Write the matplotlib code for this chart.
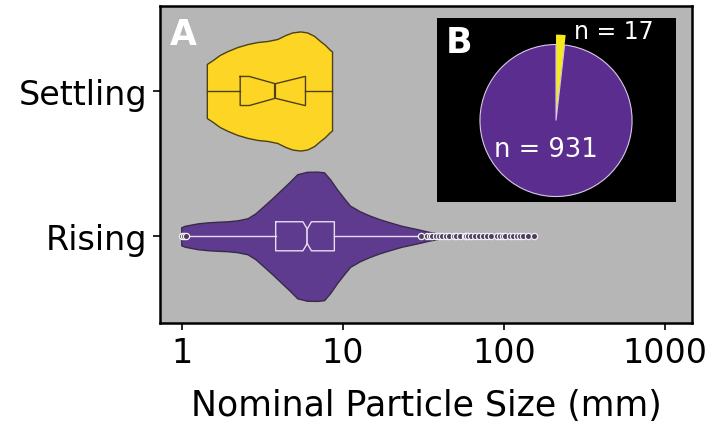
import matplotlib
matplotlib.use("Agg")
import matplotlib.pyplot as plt
import numpy as np

# Violin outlines: particle size (mm) and half width
# (fraction of the category spacing)
settling_size = [1.427, 1.554, 1.716, 1.923, 2.216, 2.555, 2.945, 3.396, 3.914,
                 4.385, 4.844, 5.427, 5.995, 6.622, 7.211, 7.743, 8.316, 8.553]
settling_half = [0.186, 0.213, 0.248, 0.275, 0.303, 0.323, 0.337, 0.344, 0.358,
                 0.385, 0.403, 0.410, 0.403, 0.379, 0.344, 0.317, 0.282, 0.272]

rising_size = [0.990, 1.043, 1.136, 1.255, 1.447, 1.668, 1.923, 2.216, 2.555,
               2.862, 3.239, 3.645, 4.084, 4.642, 5.200, 5.995, 6.911, 7.630,
               8.316, 9.184, 10.14, 11.05, 12.73, 14.68, 16.92, 19.50, 23.13,
               28.63, 33.96, 39.71, 45.77, 52.76, 153.2]
rising_half = [0.062, 0.072, 0.080, 0.089, 0.096, 0.100, 0.103, 0.110, 0.124,
               0.158, 0.211, 0.262, 0.314, 0.372, 0.427, 0.444, 0.445, 0.440,
               0.392, 0.323, 0.262, 0.211, 0.172, 0.142, 0.117, 0.096, 0.072,
               0.050, 0.031, 0.016, 0.008, 0.004, 0.002]

# Box statistics (mm)
settling_box = dict(whislo=1.43, q1=2.30, cilo=2.62, med=3.80, cihi=5.80,
                    q3=5.85, whishi=8.55, fliers=[])
rising_box = dict(whislo=1.09, q1=3.82, cilo=5.64, med=6.00, cihi=6.37,
                  q3=8.84, whishi=29.9,
                  fliers=[1.00, 1.03, 1.06,
                          30.7, 33.3, 34.6, 35.9, 37.7, 39.5, 41.4, 43.4, 45.6,
                          48.6, 50.6, 53.0, 57.0, 58.2, 59.5, 62.5, 65.6, 70.4,
                          74.5, 78.2, 83.1, 90.0, 94.0, 98.0, 102.0, 108.9,
                          114.0, 119.8, 125.5, 131.6, 140.0, 153.8])

categories = ["Settling", "Rising"]
counts = [17, 931]
count_labels = ["n = 17", "n = 931"]

yellow = "#FDD525"
yellow_edge = "#4d4115"
purple = "#5E3B8E"
purple_edge = "#3a2a4a"
box_purple = "#EADCF2"

fig = plt.figure(figsize=(7.27, 4.27), dpi=100)
ax = fig.add_axes([0.220, 0.2412, 0.7318, 0.7424])
ax.set_facecolor("#B6B6B6")

# violins
for pos, size, half, face, edge in [(0, settling_size, settling_half, yellow, yellow_edge),
                                     (1, rising_size, rising_half, purple, purple_edge)]:
    size = np.array(size)
    half = np.array(half)
    ax.fill_between(size, pos - half, pos + half, facecolor=face, edgecolor=edge,
                    linewidth=1.0, zorder=1)

# notched boxes
ax.bxp([settling_box], positions=[0], widths=0.2, orientation="horizontal",
       shownotches=True, showcaps=False, showfliers=False,
       boxprops=dict(color=yellow_edge, linewidth=1.0),
       whiskerprops=dict(color=yellow_edge, linewidth=1.0),
       medianprops=dict(color=yellow_edge, linewidth=1.6), zorder=2)
ax.bxp([rising_box], positions=[1], widths=0.2, orientation="horizontal",
       shownotches=True, showcaps=False, showfliers=True,
       boxprops=dict(color=box_purple, linewidth=1.0),
       whiskerprops=dict(color=box_purple, linewidth=1.0),
       medianprops=dict(color=box_purple, linewidth=1.2),
       flierprops=dict(marker="o", markersize=4.5, markerfacecolor="#4a4058",
                       markeredgecolor="#f4eef8", markeredgewidth=0.9),
       zorder=2)

ax.set_xscale("log")
ax.set_xlim(0.73, 1470)
ax.set_ylim(1.597, -0.585)
ax.set_xticks([1, 10, 100, 1000])
ax.set_xticklabels(["1", "10", "100", "1000"])
ax.xaxis.set_minor_locator(matplotlib.ticker.NullLocator())
ax.set_yticks([0, 1])
ax.set_yticklabels(categories)
ax.tick_params(axis="both", labelsize=24, length=5, width=1.2, pad=4)
ax.set_xlabel("Nominal Particle Size (mm)", fontsize=25, labelpad=14)
for s in ax.spines.values():
    s.set_linewidth(1.8)
    s.set_color("black")

ax.text(0.018, 0.965, "A", transform=ax.transAxes, color="white", fontsize=25,
        fontweight="bold", va="top", ha="left")

# inset pie
ax2 = fig.add_axes([0.601, 0.5246, 0.329, 0.431])
wedges, _ = ax2.pie(counts, colors=["#F7EA1A", "#5B2D8F"], startangle=90,
                    counterclock=False, center=(0, 0), radius=1.0,
                    wedgeprops=dict(edgecolor="#D9C9E8", linewidth=0.8))
wedges[0].set_radius(1.13)
wedges[0].set_edgecolor("none")
ax2.set_frame_on(True)
ax2.set_facecolor("black")
ax2.set_aspect("auto")
ax2.set_xlim(-1.566, 1.579)
ax2.set_ylim(-1.072, 1.349)
ax2.set_xticks([])
ax2.set_yticks([])
for s in ax2.spines.values():
    s.set_visible(False)
ax2.text(0.23, 1.18, count_labels[0], color="white", fontsize=17, va="center")
ax2.text(-0.13, -0.375, count_labels[1], color="white", fontsize=18.5,
         va="center", ha="center")
ax2.text(0.038, 0.962, "B", transform=ax2.transAxes, color="white", fontsize=25,
         fontweight="bold", va="top", ha="left")

fig.savefig("out.png", dpi=100)
